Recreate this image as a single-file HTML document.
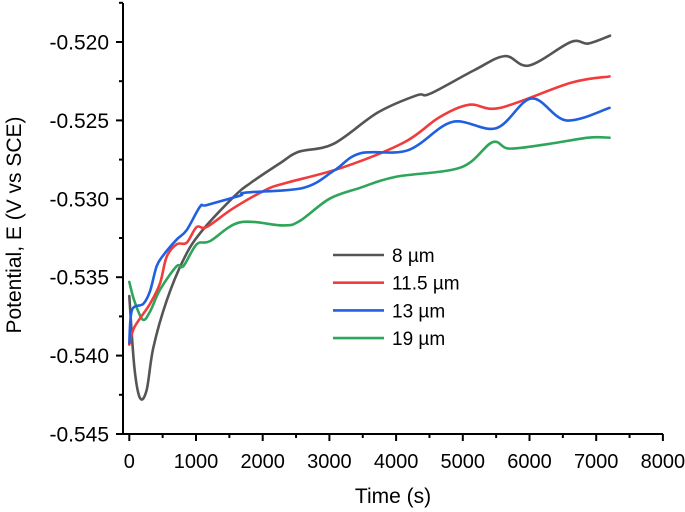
<!DOCTYPE html>
<html><head><meta charset="utf-8">
<style>
html,body{margin:0;padding:0;background:#fff;}
svg{display:block;font-family:"Liberation Sans",sans-serif;}
</style></head>
<body>
<svg id="chart" width="685" height="512" viewBox="0 0 685 512"></svg>
<script>
const xTicks=[0,1000,2000,3000,4000,5000,6000,7000,8000];
const yTicks=[-0.520,-0.525,-0.530,-0.535,-0.540,-0.545];
const seriesNames=["8 µm","11.5 µm","13 µm","19 µm"];
const seriesColors=["#555555","#f03c3c","#2060e0","#2ea55a"];
const t8=[0,75,160,260,360,560,810,1060,1560,1815,2270,2540,3060,3725,4310,4510,5170,5630,5995,6620,6880,7207];
const e8=[-0.5362,-0.5407,-0.5427,-0.5422,-0.5395,-0.5365,-0.5339,-0.5322,-0.5299,-0.5290,-0.5277,-0.5270,-0.5265,-0.5245,-0.5234,-0.5233,-0.5218,-0.5209,-0.5215,-0.5200,-0.5201,-0.5196];
const t115=[0,75,310,460,560,710,860,1010,1160,1560,2060,2340,3200,4120,4650,5100,5560,6620,7200];
const e115=[-0.5393,-0.5382,-0.5367,-0.5354,-0.5337,-0.5329,-0.5328,-0.5318,-0.5318,-0.5306,-0.5294,-0.5290,-0.5280,-0.5264,-0.5248,-0.5240,-0.5242,-0.5226,-0.5222];
const t13=[0,40,210,310,410,510,710,860,1060,1160,1660,1750,2610,3070,3460,4180,4840,5500,6030,6550,7200];
const e13=[-0.5392,-0.5371,-0.5367,-0.5359,-0.5343,-0.5336,-0.5326,-0.5320,-0.5305,-0.5304,-0.5298,-0.5296,-0.5293,-0.5282,-0.5271,-0.5269,-0.5251,-0.5255,-0.5236,-0.5250,-0.5242];
const t19=[0,75,200,310,460,710,810,1010,1210,1660,2310,2560,3000,3460,3990,4970,5440,5700,6290,6880,7200];
const e19=[-0.5353,-0.5365,-0.5377,-0.5372,-0.5358,-0.5343,-0.5343,-0.5329,-0.5327,-0.5315,-0.5317,-0.5314,-0.5300,-0.5293,-0.5286,-0.5280,-0.5264,-0.5268,-0.5265,-0.5261,-0.5261];

const svg=document.getElementById('chart');
const NS='http://www.w3.org/2000/svg';
const X0=129.3, XS=66.7/1000, Y0=42, YS=78.4/0.005;
function sx(t){return X0+t*XS;}
function sy(e){return Y0+(-0.520-e)*YS;}
function mk(tag,attrs,parent){const el=document.createElementNS(NS,tag);for(const k in attrs)el.setAttribute(k,attrs[k]);(parent||svg).appendChild(el);return el;}

const axes=mk('g',{});


const yAxis=mk('line',{x1:123,y1:3,x2:123,y2:435,stroke:'#000','stroke-width':2},axes);


const xAxis=mk('line',{x1:122,y1:434,x2:663,y2:434,stroke:'#000','stroke-width':2},axes);


xTicks.forEach((v,i)=>{
  const x=sx(v);
  const tk=mk('line',{x1:x,y1:434,x2:x,y2:441,stroke:'#000','stroke-width':2},axes);
  
  
  if(i<xTicks.length-1){const m=mk('line',{x1:sx(v+500),y1:434,x2:sx(v+500),y2:438,stroke:'#000','stroke-width':2},axes);
  
  }
  const lb=mk('text',{x:x,y:468,'text-anchor':'middle','font-size':20},axes);lb.textContent=String(v);
  
  
});
yTicks.forEach((v,i)=>{
  const y=sy(v);
  const tk=mk('line',{x1:116,y1:y,x2:123,y2:y,stroke:'#000','stroke-width':2},axes);
  
  
  if(i<yTicks.length-1){const m=mk('line',{x1:119,y1:sy(v-0.0025),x2:123,y2:sy(v-0.0025),stroke:'#000','stroke-width':2},axes);
  
  }
  const lb=mk('text',{x:109,y:y+7.5,'text-anchor':'end','font-size':21},axes);lb.textContent=v.toFixed(3);
  
  
});
const m0=mk('line',{x1:119,y1:sy(-0.5175),x2:123,y2:sy(-0.5175),stroke:'#000','stroke-width':2},axes);


const xt=mk('text',{x:393,y:503,'text-anchor':'middle','font-size':21},axes);xt.textContent='Time (s)';


const yt=mk('text',{x:0,y:0,'text-anchor':'middle','font-size':21,transform:'translate(21,225) rotate(-90)'},axes);yt.textContent='Potential, E (V vs SCE)';



const data=[[t8,e8],[t115,e115],[t13,e13],[t19,e19]];
function smoothPath(pts){
  let d='M'+pts[0][0]+','+pts[0][1];
  for(let i=0;i<pts.length-1;i++){
    const p0=pts[Math.max(i-1,0)],p1=pts[i],p2=pts[i+1],p3=pts[Math.min(i+2,pts.length-1)];
    const c1x=p1[0]+(p2[0]-p0[0])/6,c1y=p1[1]+(p2[1]-p0[1])/6;
    const c2x=p2[0]-(p3[0]-p1[0])/6,c2y=p2[1]-(p3[1]-p1[1])/6;
    d+=' C'+c1x+','+c1y+' '+c2x+','+c2y+' '+p2[0]+','+p2[1];
  }
  return d;
}
const order=[0,3,1,2];
order.forEach(k=>{
  const [ts,es]=data[k];
  const pts=ts.map((t,i)=>[sx(t),sy(es[i])]);
  const p=mk('path',{d:smoothPath(pts),fill:'none',stroke:seriesColors[k],'stroke-width':2.6,'stroke-linejoin':'round','stroke-linecap':'round'});
  
  
});
const legend=mk('g',{});


seriesNames.forEach((n,i)=>{
  const y=255+i*27.7;
  const ln=mk('line',{x1:333,y1:y,x2:384,y2:y,stroke:seriesColors[i],'stroke-width':2.6},legend);
  
  
  const tx=mk('text',{x:392,y:y+7,'font-size':19},legend);tx.textContent=n;
  
  
});
</script>
</body></html>
